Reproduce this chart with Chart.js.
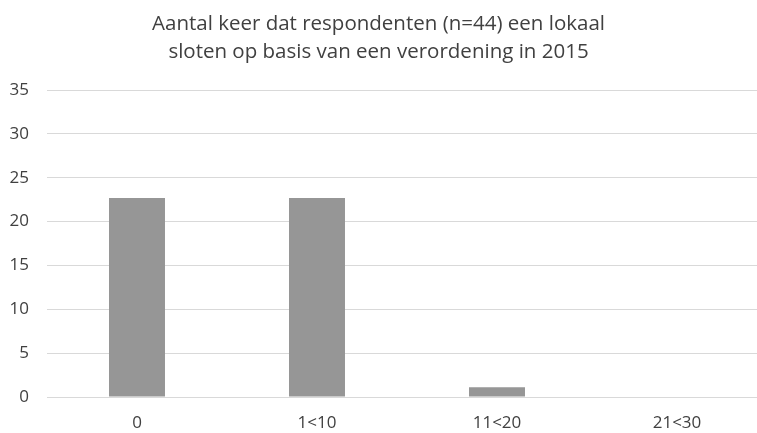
<!DOCTYPE html>
<html>
<head>
<meta charset="utf-8">
<script src="https://cdn.jsdelivr.net/npm/chart.js@4"></script>
<style>
  html, body { margin: 0; padding: 0; overflow: hidden; background: #fff; }
  #wrap { position: relative; width: 777px; height: 433px; margin-left: -10px; }
</style>
</head>
<body>
<div id="wrap"><canvas id="c"></canvas></div>
<script>
const categories = ["0", "1<10", "11<20", "21<30"];
const values = [22.7, 22.7, 1.1, 0];
const yTicks = [0, 5, 10, 15, 20, 25, 30, 35];
const titleLines = ["Aantal keer dat respondenten (n=44) een lokaal", "sloten op basis van een verordening in 2015"];

const FONT = "'Open Sans', 'Noto Sans', sans-serif";

const centerTitle = {
  id: 'centerTitle',
  afterLayout(chart) {
    if (chart.titleBlock) { chart.titleBlock.left = 0; }
  }
};

new Chart(document.getElementById('c'), {
  type: 'bar',
  data: {
    labels: categories,
    datasets: [{
      data: values,
      backgroundColor: '#969696',
      barPercentage: 0.311,
      categoryPercentage: 1.0
    }]
  },
  plugins: [centerTitle],
  options: {
    responsive: true,
    maintainAspectRatio: false,
    animation: false,
    layout: { padding: { left: 10, right: 0, top: 10, bottom: 0 } },
    plugins: {
      legend: { display: false },
      tooltip: { enabled: false },
      title: {
        display: true,
        text: titleLines,
        color: '#404040',
        font: { family: FONT, size: 20.5, weight: 'normal', lineHeight: '28px' },
        padding: { top: 0, bottom: 24 }
      }
    },
    scales: {
      x: {
        afterFit: (s) => { s.height = 36; },
        grid: { display: false, drawTicks: false },
        border: { display: false },
        ticks: { color: '#404040', font: { family: FONT, size: 17 }, padding: 16 }
      },
      y: {
        min: yTicks[0],
        max: yTicks[yTicks.length - 1],
        afterBuildTicks: (s) => { s.ticks = yTicks.map(v => ({ value: v })); },
        afterFit: (s) => { s.width = 47; },
        grid: { color: '#d9d9d9', drawTicks: false, lineWidth: 1 },
        border: { display: false },
        ticks: { color: '#404040', font: { family: FONT, size: 17 }, padding: 18 }
      }
    }
  }
});
</script>
</body>
</html>
